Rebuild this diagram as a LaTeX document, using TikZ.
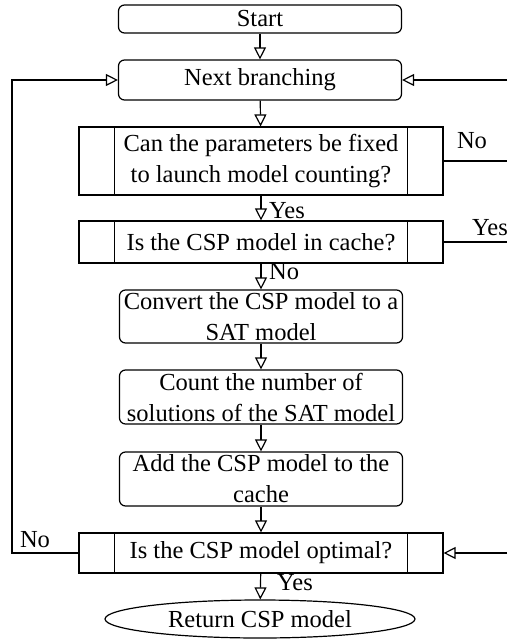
\documentclass[tikz,border=0pt]{standalone}
\usepackage{fontspec}
\setmainfont{Liberation Serif}
\usetikzlibrary{arrows.meta,shapes.geometric}
\tikzset{
  frame/.style={draw, line width=1.2pt, inner sep=0pt},
  roundbox/.style={frame, rounded corners=6pt, minimum width=283pt},
  predef/.style={frame, minimum width=364pt},
  oval/.style={frame, ellipse, minimum width=310pt, minimum height=38pt},
  txt/.style={align=center, inner sep=0pt, font=\fontsize{24.5}{31}\selectfont},
  flow/.style={line width=1.2pt, -{Triangle[open, length=12pt, width=12pt]}},
  link/.style={line width=1.2pt},
  lbl/.style={font=\fontsize{24.5}{28}\selectfont, inner sep=0pt}
}
\newcommand{\sidebars}[1]{%
  \draw[line width=1.2pt] ([xshift=36pt]#1.north west) -- ([xshift=36pt]#1.south west);
  \draw[line width=1.2pt] ([xshift=-36pt]#1.north east) -- ([xshift=-36pt]#1.south east);}
\begin{document}
\begin{tikzpicture}[x=1pt, y=-1pt]
  \useasboundingbox (0,0) rectangle (507,640);
  % frames of the main column
  \node[roundbox, minimum height=28pt] (start) at (260,19) {};
  \node[roundbox, minimum height=40pt] (next) at (260,80) {};
  \node[predef, minimum height=68pt] (fix) at (261,161) {};
  \node[predef, minimum height=42pt] (cache) at (261,242) {};
  \node[roundbox, minimum height=53pt] (conv) at (261,316.5) {};
  \node[roundbox, minimum height=54pt] (count) at (261,397) {};
  \node[roundbox, minimum height=54pt] (add) at (261,479) {};
  \node[predef, minimum height=40pt] (opt) at (261,553) {};
  \node[oval] (ret) at (260,619) {};
  \sidebars{fix}
  \sidebars{cache}
  \sidebars{opt}
  % texts inside the frames
  \node[txt] (start-t) at (start) {Start};
  \node[txt] (next-t) at (next) {Next branching};
  \node[txt] (fix-t) at (fix) {Can the parameters be fixed\\to launch model counting?};
  \node[txt] (cache-t) at (cache) {Is the CSP model in cache?};
  \node[txt] (conv-t) at (conv) {Convert the CSP model to a\\SAT model};
  \node[txt] (count-t) at (count) {Count the number of\\solutions of the SAT model};
  \node[txt] (add-t) at (add) {Add the CSP model to the\\cache};
  \node[txt] (opt-t) at (opt) {Is the CSP model optimal?};
  \node[txt] (ret-t) at (ret) {Return CSP model};
  % vertical flow
  \draw[flow] (start) -- (next);
  \draw[flow] (next) -- (fix);
  \draw[flow] (fix) -- (cache);
  \draw[flow] (cache) -- (conv);
  \draw[flow] (conv) -- (count);
  \draw[flow] (count) -- (add);
  \draw[flow] (add) -- (opt);
  \draw[flow] (opt) -- (ret);
  \node[lbl, anchor=west] (yes1) at (269,211) {Yes};
  \node[lbl, anchor=west] (no1) at (269,272) {No};
  \node[lbl, anchor=west] (yes2) at (277,583) {Yes};
  % loop back on the left
  \coordinate (lturn1) at (12,553);
  \coordinate (lturn2) at (12,80);
  \draw[flow] (opt.west) -- (lturn1) -- (lturn2) -- (next.west);
  \node[lbl] (no2) at (35,540) {No};
  % branches on the right
  \coordinate (rfix) at (507,161);
  \coordinate (rcache) at (507,242);
  \coordinate (rnext) at (507,80);
  \coordinate (ropt) at (507,553);
  \draw[link] (fix.east) -- (rfix);
  \draw[link] (cache.east) -- (rcache);
  \draw[flow] (rnext) -- (next.east);
  \draw[flow] (ropt) -- (opt.east);
  \node[lbl] (no3) at (472,141) {No};
  \node[lbl, anchor=east] (yes3) at (508,228) {Yes};
\end{tikzpicture}
\end{document}
